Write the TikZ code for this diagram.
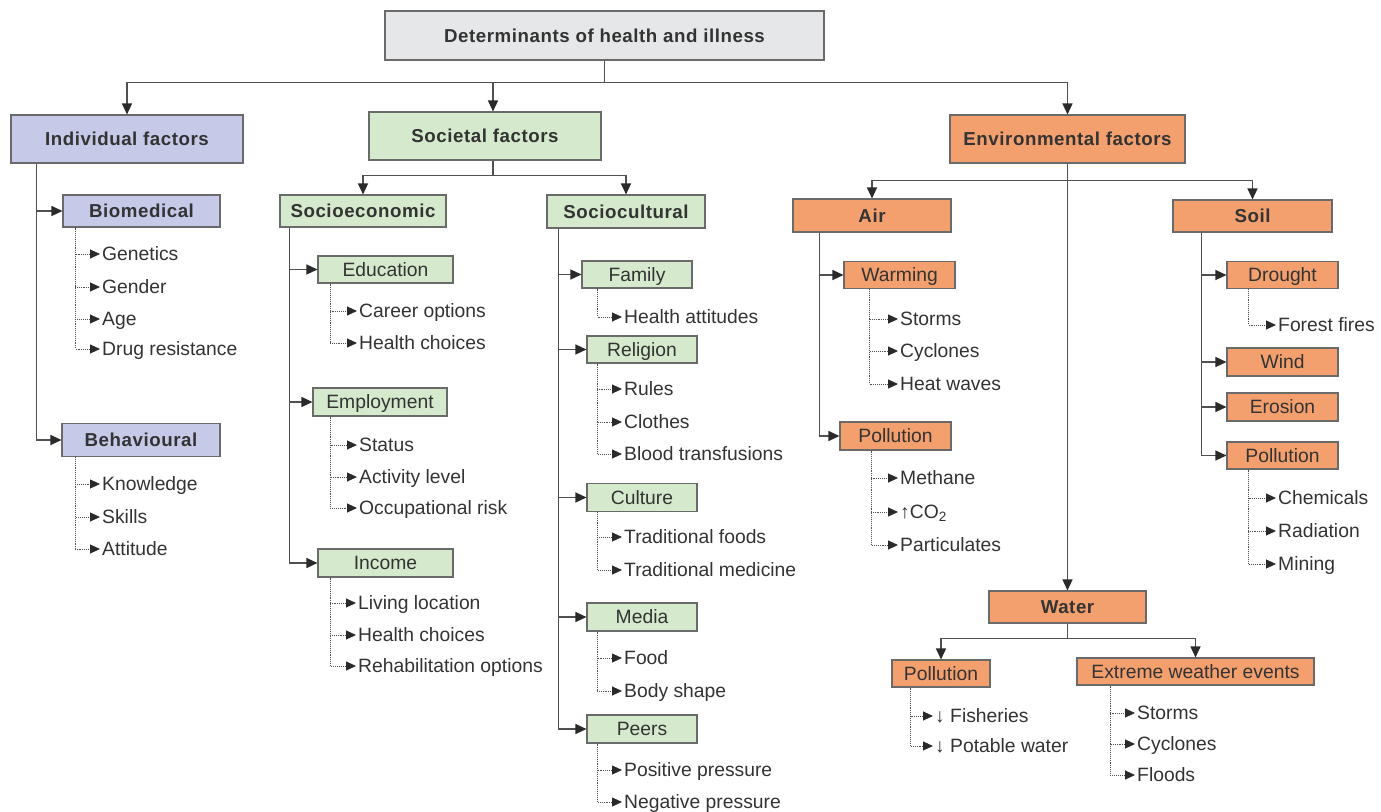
\documentclass[tikz,border=0pt]{standalone}
\usepackage{fontspec}
\setmainfont{Liberation Sans}
\newfontfamily\hdfont{Liberation Sans}[LetterSpace=3]
\usetikzlibrary{arrows.meta}
\definecolor{txt}{HTML}{333333}
\definecolor{bordc}{HTML}{6A6A6A}
\definecolor{linec}{HTML}{505050}
\definecolor{tipc}{HTML}{2A2A2A}
\definecolor{grayf}{HTML}{E6E7E8}
\definecolor{bluef}{HTML}{C6CAE8}
\definecolor{greenf}{HTML}{D5E9CC}
\definecolor{orangef}{HTML}{F3A06E}
\begin{document}
\begin{tikzpicture}[x=1pt,y=-1pt,
  box/.style={draw=bordc, line width=1.1pt, inner sep=0pt, text=txt,
    font=\fontsize{19.3}{21}\selectfont, text height=13.5pt, text depth=0pt},
  hd/.style={box, font=\fontsize{18.7}{20}\selectfont\hdfont\bfseries},
  gbox/.style={fill=grayf},
  bbox/.style={fill=bluef},
  grbox/.style={fill=greenf},
  obox/.style={fill=orangef},
  leaf/.style={anchor=west, inner xsep=2pt, inner ysep=0pt, text=txt,
    font=\fontsize{19.3}{21}\selectfont, text height=13.5pt, text depth=0pt},
  arr/.style={draw=linec, line width=1.3pt, -{Triangle[length=11pt,width=10pt,color=tipc]}},
  leafl/.style={draw=linec, line width=0.9pt, densely dotted, -{Triangle[length=10pt,width=9pt,color=tipc]}}
]
\useasboundingbox (0,0) rectangle (1381,811);
\fill[white] (0,0) rectangle (1381,811);

% ---------- main boxes ----------
\node[hd,gbox,minimum width=439pt,minimum height=49pt] (top) at (604.5,35.5) {Determinants of health and illness};
\node[hd,bbox,minimum width=232pt,minimum height=48pt] (ind) at (127,139) {Individual factors};
\node[hd,grbox,minimum width=232pt,minimum height=48pt] (soc) at (485,136) {Societal factors};
\node[hd,obox,minimum width=235pt,minimum height=48pt] (env) at (1067.5,139) {Environmental factors};

\draw[arr] (top.south) -- ++(0,22) -| (ind.north);
\draw[arr] (top.south) -- ++(0,22) -| ([xshift=8pt]soc.north);
\draw[arr] (top.south) -- ++(0,22) -| (env.north);

% ---------- individual ----------
\node[hd,bbox,minimum width=157pt,minimum height=32pt] (bio) at (141.5,211) {Biomedical};
\node[hd,bbox,minimum width=158pt,minimum height=33pt] (beh) at (141,440) {Behavioural};
\coordinate (indT) at ([xshift=26pt]ind.south west);
\draw[arr] (indT) |- (bio.west);
\draw[arr] (indT) |- (beh.west);
\coordinate (bioT) at ([xshift=13pt]bio.south west);
\foreach \n/\y/\t in {bioa/254/Genetics, biob/287/Gender, bioc/319/Age, biod/349/Drug resistance}{
  \node[leaf] (\n) at (100,\y) {\t};
  \draw[leafl] (bioT) |- (\n.west);
}
\coordinate (behT) at ([xshift=14pt]beh.south west);
\foreach \n/\y/\t in {beha/484/Knowledge, behb/517/Skills, behc/549/Attitude}{
  \node[leaf] (\n) at (100,\y) {\t};
  \draw[leafl] (behT) |- (\n.west);
}

% ---------- societal ----------
\node[hd,grbox,minimum width=166pt,minimum height=32pt] (seco) at (363,211) {Socioeconomic};
\node[hd,grbox,minimum width=158pt,minimum height=33pt] (scul) at (626,211.5) {Sociocultural};
\draw[arr] ([xshift=8pt]soc.south) -- ++(0,15) -| (seco.north);
\draw[arr] ([xshift=8pt]soc.south) -- ++(0,15) -| (scul.north);

\node[box,grbox,minimum width=135pt,minimum height=27pt] (edu) at (385.5,269.5) {Education};
\node[box,grbox,minimum width=134pt,minimum height=28pt] (emp) at (380,402) {Employment};
\node[box,grbox,minimum width=135pt,minimum height=28pt] (inc) at (385.5,563) {Income};
\coordinate (secoT) at ([xshift=10pt]seco.south west);
\draw[arr] (secoT) |- (edu.west);
\draw[arr] (secoT) |- (emp.west);
\draw[arr] (secoT) |- (inc.west);
\coordinate (eduT) at ([xshift=13pt]edu.south west);
\foreach \n/\y/\t in {edua/311/Career options, edub/343/Health choices}{
  \node[leaf] (\n) at (357,\y) {\t};
  \draw[leafl] (eduT) |- (\n.west);
}
\coordinate (empT) at ([xshift=18pt]emp.south west);
\foreach \n/\y/\t in {empa/445/Status, empb/477/Activity level, empc/508/Occupational risk}{
  \node[leaf] (\n) at (357,\y) {\t};
  \draw[leafl] (empT) |- (\n.west);
}
\coordinate (incT) at ([xshift=13pt]inc.south west);
\foreach \n/\y/\t in {inca/603/Living location, incb/635/Health choices, incc/666/Rehabilitation options}{
  \node[leaf] (\n) at (356,\y) {\t};
  \draw[leafl] (incT) |- (\n.west);
}

\node[box,grbox,minimum width=110pt,minimum height=27pt] (fam) at (637,274.5) {Family};
\node[box,grbox,minimum width=110pt,minimum height=27pt] (rel) at (642,349.5) {Religion};
\node[box,grbox,minimum width=110pt,minimum height=28pt] (cul) at (642,497.5) {Culture};
\node[box,grbox,minimum width=110pt,minimum height=28pt] (med) at (642,617) {Media};
\node[box,grbox,minimum width=110pt,minimum height=28pt] (peer) at (642,729) {Peers};
\coordinate (sculT) at ([xshift=12pt]scul.south west);
\foreach \b in {fam,rel,cul,med,peer}{ \draw[arr] (sculT) |- (\b.west); }
\coordinate (famT) at ([xshift=16pt]fam.south west);
\node[leaf] (fama) at (622,317) {Health attitudes};
\draw[leafl] (famT) |- (fama.west);
\coordinate (relT) at ([xshift=11pt]rel.south west);
\foreach \n/\y/\t in {rela/389/Rules, relb/422/Clothes, relc/454/Blood transfusions}{
  \node[leaf] (\n) at (622,\y) {\t};
  \draw[leafl] (relT) |- (\n.west);
}
\coordinate (culT) at ([xshift=11pt]cul.south west);
\foreach \n/\y/\t in {cula/537/Traditional foods, culb/570/Traditional medicine}{
  \node[leaf] (\n) at (622,\y) {\t};
  \draw[leafl] (culT) |- (\n.west);
}
\coordinate (medT) at ([xshift=11pt]med.south west);
\foreach \n/\y/\t in {meda/658/Food, medb/691/Body shape}{
  \node[leaf] (\n) at (622,\y) {\t};
  \draw[leafl] (medT) |- (\n.west);
}
\coordinate (peerT) at ([xshift=11pt]peer.south west);
\foreach \n/\y/\t in {peera/770/Positive pressure, peerb/802/Negative pressure}{
  \node[leaf] (\n) at (622,\y) {\t};
  \draw[leafl] (peerT) |- (\n.west);
}

% ---------- environmental ----------
\node[hd,obox,minimum width=158pt,minimum height=33pt] (air) at (872,215.5) {Air};
\node[hd,obox,minimum width=159pt,minimum height=32pt] (soil) at (1252.5,216) {Soil};
\node[hd,obox,minimum width=157pt,minimum height=32pt] (water) at (1067.5,607) {Water};
\draw[arr] (env.south) -- ++(0,17) -| (air.north);
\draw[arr] (env.south) -- ++(0,17) -| (soil.north);
\draw[arr] (env.south) -- (water.north);

\node[box,obox,minimum width=111pt,minimum height=27pt] (warm) at (899.5,275) {Warming};
\node[box,obox,minimum width=111pt,minimum height=28pt] (apol) at (895.5,436) {Pollution};
\coordinate (airT) at ([xshift=27pt]air.south west);
\draw[arr] (airT) |- (warm.west);
\draw[arr] (airT) |- (apol.west);
\coordinate (warmT) at ([xshift=26pt]warm.south west);
\foreach \n/\y/\t in {warma/319/Storms, warmb/351/Cyclones, warmc/384/Heat waves}{
  \node[leaf] (\n) at (898,\y) {\t};
  \draw[leafl] (warmT) |- (\n.west);
}
\coordinate (apolT) at ([xshift=32pt]apol.south west);
\foreach \n/\y/\t in {apola/478/Methane, apolb/512/{↑CO\textsubscript{2}}, apolc/545/Particulates}{
  \node[leaf] (\n) at (898,\y) {\t};
  \draw[leafl] (apolT) |- (\n.west);
}

\node[box,obox,minimum width=111pt,minimum height=27pt] (drou) at (1282.5,275) {Drought};
\node[box,obox,minimum width=111pt,minimum height=28pt] (wind) at (1282.5,362) {Wind};
\node[box,obox,minimum width=111pt,minimum height=28pt] (eros) at (1282.5,407) {Erosion};
\node[box,obox,minimum width=111pt,minimum height=27pt] (spol) at (1282.5,455.5) {Pollution};
\coordinate (soilT) at ([xshift=29pt]soil.south west);
\foreach \b in {drou,wind,eros,spol}{ \draw[arr] (soilT) |- (\b.west); }
\coordinate (drouT) at ([xshift=22pt]drou.south west);
\node[leaf] (droua) at (1276,325) {Forest fires};
\draw[leafl] (drouT) |- (droua.west);
\coordinate (spolT) at ([xshift=22pt]spol.south west);
\foreach \n/\y/\t in {spola/498/Chemicals, spolb/531/Radiation, spolc/564/Mining}{
  \node[leaf] (\n) at (1276,\y) {\t};
  \draw[leafl] (spolT) |- (\n.west);
}

\node[box,obox,minimum width=98pt,minimum height=27pt] (wpol) at (941,673.5) {Pollution};
\node[box,obox,minimum width=237pt,minimum height=27pt] (ext) at (1195.5,671.5) {Extreme weather events};
\draw[arr] (water.south) -- ++(0,15) -| (wpol.north);
\draw[arr] (water.south) -- ++(0,15) -| (ext.north);
\coordinate (wpolT) at ([xshift=19pt]wpol.south west);
\foreach \n/\y/\t in {wpola/716/↓ Fisheries, wpolb/746/↓ Potable water}{
  \node[leaf] (\n) at (933,\y) {\t};
  \draw[leafl] (wpolT) |- (\n.west);
}
\coordinate (extT) at ([xshift=34pt]ext.south west);
\foreach \n/\y/\t in {exta/713/Storms, extb/744/Cyclones, extc/775/Floods}{
  \node[leaf] (\n) at (1135,\y) {\t};
  \draw[leafl] (extT) |- (\n.west);
}
\end{tikzpicture}
\end{document}
